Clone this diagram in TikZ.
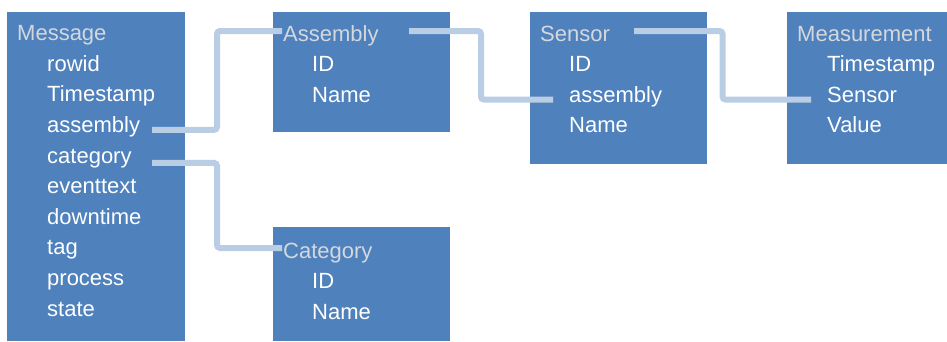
\documentclass[tikz,border=0pt]{standalone}
\usepackage{fontspec}
\setmainfont{Liberation Sans}
\usetikzlibrary{calc}
\definecolor{tablefill}{HTML}{4F81BD}
\definecolor{linkline}{HTML}{B9CDE5}
\definecolor{titletext}{HTML}{D4D8DD}
\tikzset{
  tablebox/.style={fill=tablefill, draw=none, anchor=north west, inner sep=0pt, outer sep=0pt},
  tabletitle/.style={anchor=base west, inner sep=0pt, text=titletext, font=\fontsize{22}{26}\selectfont},
  tablefield/.style={anchor=base west, inner sep=0pt, text=white, font=\fontsize{22}{26}\selectfont},
  link/.style={draw=linkline, line width=6pt, rounded corners=3pt},
}
\begin{document}
\begin{tikzpicture}[x=1pt,y=1pt]
\useasboundingbox (0,0) rectangle (947,-341);

% table boxes
\node[tablebox, minimum width=178pt, minimum height=329pt] (msg) at (7,-12) {};
\node[tablebox, minimum width=177pt, minimum height=120pt] (asm) at (273,-12) {};
\node[tablebox, minimum width=177pt, minimum height=114pt] (cat) at (273,-227) {};
\node[tablebox, minimum width=177pt, minimum height=152pt] (sen) at (530,-12) {};
\node[tablebox, minimum width=160pt, minimum height=152pt] (mea) at (787,-12) {};

% Message table
\node[tabletitle] (msg-t) at (17,-40.7) {Message};
\foreach \f [count=\i] in {rowid,Timestamp,assembly,category,eventtext,downtime,tag,process,state}
  \node[tablefield] (msg-\f) at (47,{-40.7-30.6*\i}) {\f};

% Assembly table
\node[tabletitle] (asm-t) at (283,-41) {Assembly};
\foreach \f [count=\i] in {ID,Name}
  \node[tablefield] (asm-\f) at (312,{-41-30.6*\i}) {\f};

% Category table
\node[tabletitle] (cat-t) at (283,-258) {Category};
\foreach \f [count=\i] in {ID,Name}
  \node[tablefield] (cat-\f) at (312,{-258-30.6*\i}) {\f};

% Sensor table
\node[tabletitle] (sen-t) at (540,-41) {Sensor};
\foreach \f [count=\i] in {ID,assembly,Name}
  \node[tablefield] (sen-\f) at (569,{-41-30.6*\i}) {\f};

% Measurement table
\node[tabletitle] (mea-t) at (797,-41) {Measurement};
\foreach \f [count=\i] in {Timestamp,Sensor,Value}
  \node[tablefield] (mea-\f) at (827,{-41-30.6*\i}) {\f};

% link end points
\coordinate (l1a) at ($(msg-assembly.mid west)+(105,0)$);
\coordinate (l1b) at ($(asm-t.base west)+(-1,10)$);
\coordinate (l2a) at ($(msg-category.mid west)+(105,-2.5)$);
\coordinate (l2b) at ($(cat-t.base west)+(-1,10)$);
\coordinate (l3a) at ($(asm-t.base west)+(126,10)$);
\coordinate (l3b) at ($(sen-assembly.mid west)+(-16,0)$);
\coordinate (l4a) at ($(sen-t.base west)+(94,10)$);
\coordinate (l4b) at ($(mea-Sensor.mid west)+(-16,0)$);

% links between tables
\draw[link] (l1a) -| ($(l1a)!0.5!(l1b)$) |- (l1b);
\draw[link] (l2a) -| ($(l2a)!0.5!(l2b)$) |- (l2b);
\draw[link] (l3a) -| ($(l3a)!0.5!(l3b)$) |- (l3b);
\draw[link] (l4a) -| ($(l4a)!0.5!(l4b)$) |- (l4b);
\end{tikzpicture}
\end{document}
